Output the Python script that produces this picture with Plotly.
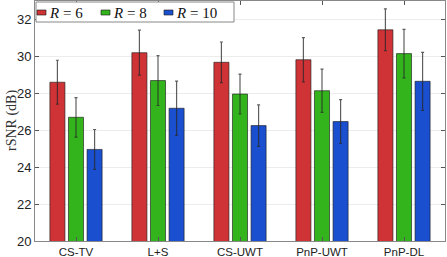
import plotly.graph_objects as go

methods = ["CS-TV", "L+S", "CS-UWT", "PnP-UWT", "PnP-DL"]
series_names = ["<i>R</i> = 6", "<i>R</i> = 8", "<i>R</i> = 10"]
r6_mean = [28.6, 30.2, 29.68, 29.82, 31.44]
r6_std = [1.19, 1.22, 1.10, 1.20, 1.13]
r8_mean = [26.7, 28.69, 27.96, 28.14, 30.15]
r8_std = [1.07, 1.35, 1.08, 1.17, 1.31]
r10_mean = [24.96, 27.19, 26.25, 26.47, 28.65]
r10_std = [1.08, 1.47, 1.12, 1.19, 1.57]
colors = ["#cf3336", "#33b41c", "#1a4fcf"]
yticks = [20, 22, 24, 26, 28, 30, 32]

W, H = 447, 257
ML, MR, MT, MB = 35, 2, 1, 16
PW, PH = W - ML - MR, H - MT - MB


def px_x(x):
    return (x - ML) / PW


def px_y(y):
    return (H - MB - y) / PH


fig = go.Figure()
for name, m, s, c in zip(series_names, [r6_mean, r8_mean, r10_mean],
                         [r6_std, r8_std, r10_std], colors):
    fig.add_trace(go.Bar(
        x=methods, y=m, name=name,
        marker=dict(color=c, line=dict(color="rgba(30,30,30,0.8)", width=0.8)),
        error_y=dict(type="data", array=s, visible=True,
                     color="rgba(40,40,40,0.75)", thickness=1.2, width=1.5),
        showlegend=False,
    ))

# legend (manual, compact like the reference)
shapes = [dict(type="rect", xref="paper", yref="paper",
               x0=px_x(36), x1=px_x(234), y0=px_y(22), y1=px_y(2),
               line=dict(color="#888", width=1), fillcolor="white", layer="above")]
annotations = []
sym_x = [37, 101, 164]
for i, (name, c) in enumerate(zip(series_names, colors)):
    shapes.append(dict(type="rect", xref="paper", yref="paper",
                       x0=px_x(sym_x[i]), x1=px_x(sym_x[i] + 9),
                       y0=px_y(15), y1=px_y(10),
                       line=dict(color="rgba(30,30,30,0.8)", width=0.8),
                       fillcolor=c, layer="above"))
    annotations.append(dict(xref="paper", yref="paper", x=px_x(sym_x[i] + 10),
                            y=px_y(12.5), xanchor="left", yanchor="middle",
                            text=name, showarrow=False,
                            font=dict(family="Liberation Serif", size=15, color="#111")))
annotations.append(dict(xref="paper", yref="paper", x=px_x(12), y=0.5,
                        xanchor="center", yanchor="middle", textangle=-90,
                        text="rSNR (dB)", showarrow=False,
                        font=dict(family="Liberation Serif", size=14, color="#333")))

fig.update_layout(
    width=W, height=H,
    margin=dict(l=ML, r=MR, t=MT, b=MB, autoexpand=False),
    paper_bgcolor="white", plot_bgcolor="white",
    barmode="group", bargap=0.32, bargroupgap=0.19,
    showlegend=False,
    shapes=shapes, annotations=annotations,
    font=dict(family="Liberation Sans", size=12, color="#222"),
)
fig.update_xaxes(range=[-0.5, 4.5], showline=True, linecolor="#888", linewidth=1,
                 mirror="ticks", ticks="inside", ticklen=4, tickcolor="#555",
                 showgrid=False, automargin=False,
                 tickfont=dict(size=11.5, family="Liberation Sans", color="#222"))
fig.update_yaxes(range=[20, 33], tickvals=yticks, showline=True, linecolor="#888",
                 linewidth=1, mirror="ticks", ticks="inside", ticklen=4,
                 tickcolor="#555", showgrid=True, gridcolor="#ececec",
                 zeroline=False, automargin=False,
                 tickfont=dict(size=13, family="Liberation Sans", color="#222"))
fig.write_html("out.html", config={"displayModeBar": False},
               post_script="document.body.style.margin='0px';"
                           "document.body.style.overflow='hidden';")
